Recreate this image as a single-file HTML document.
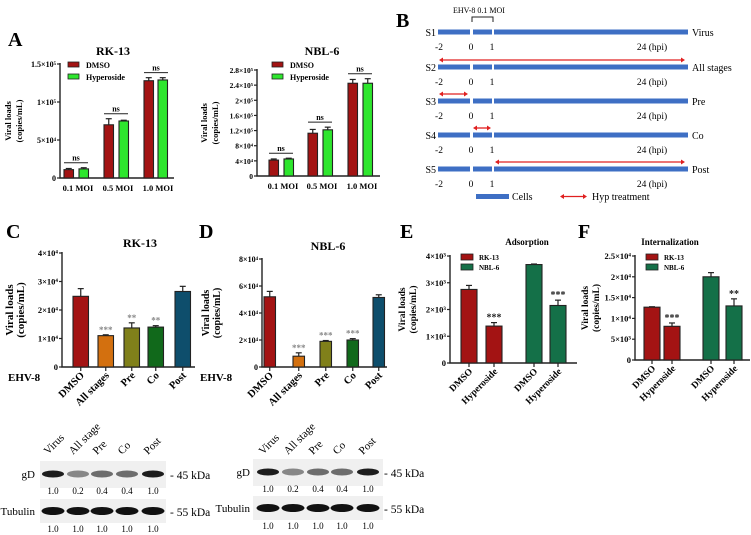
<!DOCTYPE html>
<html><head><meta charset="utf-8"><style>
html,body{margin:0;padding:0;background:#fff;}
svg{display:block;font-family:"Liberation Serif",serif;}
</style></head><body>
<svg id="fig" width="751" height="535" viewBox="0 0 751 535" xmlns="http://www.w3.org/2000/svg">
<g font-weight="bold" font-size="20">
<text x="8" y="46">A</text>
<text x="396" y="27">B</text>
<text x="6" y="238">C</text>
<text x="199" y="238">D</text>
<text x="400" y="238">E</text>
<text x="578" y="238">F</text>
</g>
<g id="charts"></g>
<g id="panelB"></g>
<g id="blots"></g>
</svg>
<script>
// Panel A data
const aCats = ["0.1 MOI","0.5 MOI","1.0 MOI"];
const aRkDmso = [11000, 70000, 128000];
const aRkDmsoErr = [1500, 8000, 4000];
const aRkHyp = [12000, 75000, 129000];
const aRkHypErr = [1500, 1000, 3000];
const aNbDmso = [42000, 113000, 245000];
const aNbDmsoErr = [3000, 10000, 10000];
const aNbHyp = [45000, 122000, 245000];
const aNbHypErr = [2000, 7000, 12000];
// Panel C/D data
const cdCats = ["DMSO","All stages","Pre","Co","Post"];
const cVals = [24800, 11000, 13700, 14000, 26500];
const cErr = [2700, 300, 1800, 500, 1800];
const cStars = ["","***","**","**",""];
const dVals = [52000, 8000, 19000, 20000, 51500];
const dErr = [4000, 2500, 600, 1000, 2000];
const dStars = ["","***","***","***",""];
// Panel E/F data
const efCats = ["DMSO","Hyperoside","DMSO","Hyperoside"];
const eVals = [2750, 1380, 3680, 2150];
const eErr = [150, 130, 20, 200];
const eStars = ["","***","","***"];
const fVals = [12700, 8100, 20000, 13000];
const fErr = [100, 800, 1000, 1700];
const fStars = ["","***","","**"];
const tickA1 = [0, 50000, 100000, 150000];
const tickA1Lab = ["0","5×10⁴","1×10⁵","1.5×10⁵"];
const tickA2 = [0,40000,80000,120000,160000,200000,240000,280000];
const tickA2Lab = ["0","4×10⁴","8×10⁴","1.2×10⁵","1.6×10⁵","2×10⁵","2.4×10⁵","2.8×10⁵"];
const tickC = [0,10000,20000,30000,40000];
const tickCLab = ["0","1×10⁴","2×10⁴","3×10⁴","4×10⁴"];
const tickD = [0,20000,40000,60000,80000];
const tickDLab = ["0","2×10⁴","4×10⁴","6×10⁴","8×10⁴"];
const tickE = [0,1000,2000,3000,4000];
const tickELab = ["0","1×10³","2×10³","3×10³","4×10³"];
const tickF = [0,5000,10000,15000,20000,25000];
const tickFLab = ["0","5×10³","1×10⁴","1.5×10⁴","2×10⁴","2.5×10⁴"];
const blotLanes = ["Virus","All stage","Pre","Co","Post"];
const gdRatio = ["1.0","0.2","0.4","0.4","1.0"];
const tubRatio = ["1.0","1.0","1.0","1.0","1.0"];

const NS="http://www.w3.org/2000/svg";
function mk(parent,tag,attrs,text){const e=document.createElementNS(NS,tag);for(const k in attrs)e.setAttribute(k,attrs[k]);if(text!==undefined)e.textContent=text;parent.appendChild(e);return e;}
const charts=document.getElementById('charts');

function chart(o){
  const g=mk(charts,'g',{});
  
  
  const y=v=>o.y0-(v/o.max)*(o.y0-o.yTop);
  const t=mk(g,'text',{x:o.titleX,y:o.titleY,'font-size':o.titleSize||12,'font-weight':'bold','text-anchor':'middle'},o.title);
  
  
  const ax=mk(g,'path',{d:`M${o.ax} ${o.yTop-1}V${o.y0}H${o.axEnd}`,stroke:'#222','stroke-width':1.4,fill:'none'});
  
  
  o.ticks.forEach((tv,i)=>{
    mk(g,'line',{x1:o.ax-3,x2:o.ax,y1:y(tv),y2:y(tv),stroke:'#222','stroke-width':1.2});
    const tl=mk(g,'text',{x:o.ax-4,y:y(tv)+3,'font-size':o.tickSize||8,'font-weight':'bold','text-anchor':'end'},o.tickLab[i]);
    
    
  });
  const yl=mk(g,'text',{transform:`translate(${o.ylX},${(o.y0+o.yTop)/2}) rotate(-90)`,'font-size':o.ylSize||9.5,'font-weight':'bold','text-anchor':'middle'});
  
  
  mk(yl,'tspan',{x:0,dy:-5},'Viral loads');
  mk(yl,'tspan',{x:0,dy:11},'(copies/mL)');
  o.series.forEach((s,si)=>{
    s.vals.forEach((v,i)=>{
      const x=o.xs[si][i], w=o.bw;
      const top=y(v+s.err[i]);
      mk(g,'line',{x1:x+w/2,x2:x+w/2,y1:y(v),y2:top,stroke:'#222','stroke-width':1.2});
      mk(g,'line',{x1:x+w/2-3,x2:x+w/2+3,y1:top,y2:top,stroke:'#222','stroke-width':1.2});
      const r=mk(g,'rect',{x:x,y:y(v),width:w,height:o.y0-y(v),fill:s.colors?s.colors[i]:s.color,stroke:'#222','stroke-width':1.1});
      
      
      if(s.stars&&s.stars[i]){
        const st=mk(g,'text',{x:x+w/2,y:top-2,'font-size':o.starSize||9,'font-weight':'bold','text-anchor':'middle',fill:o.starColor||'#222'},s.stars[i]);
        
        
      }
    });
  });
  return {g,y};
}

const a1=chart({name:'chart-a-rk13',title:'RK-13',titleX:113,titleY:55,y0:178,yTop:64,max:150000,ax:60,axEnd:174,
  ticks:tickA1,tickLab:tickA1Lab,ylX:16,bw:9.5,tickSize:8,ylSize:8.5,
  xs:[[64,104,144],[79,119,158]],
  series:[{key:'dmso',vals:aRkDmso,err:aRkDmsoErr,color:'#a31313'},{key:'hyperoside',vals:aRkHyp,err:aRkHypErr,color:'#2ee62e'}]});
const a2=chart({name:'chart-a-nbl6',title:'NBL-6',titleX:322,titleY:55,y0:176,yTop:70,max:280000,ax:257,axEnd:380,
  ticks:tickA2,tickLab:tickA2Lab,ylX:212,bw:9.5,tickSize:7.5,ylSize:8.5,
  xs:[[269,308,348],[284,323,363]],
  series:[{key:'dmso',vals:aNbDmso,err:aNbDmsoErr,color:'#a31313'},{key:'hyperoside',vals:aNbHyp,err:aNbHypErr,color:'#2ee62e'}]});
[[a1,[64,104,144],aRkDmso,aRkDmsoErr,aRkHyp,aRkHypErr],[a2,[269,308,348],aNbDmso,aNbDmsoErr,aNbHyp,aNbHypErr]].forEach(([c,xs,d,de,h,he])=>{
  xs.forEach((x,i)=>{
    const top=Math.min(c.y(d[i]+de[i]),c.y(h[i]+he[i]))-5;
    mk(c.g,'line',{x1:x,x2:x+24,y1:top,y2:top,stroke:'#222','stroke-width':1});
    const n=mk(c.g,'text',{x:x+12,y:top-2,'font-size':8,'font-weight':'bold','text-anchor':'middle'},'ns');
    
    
    const lb=mk(c.g,'text',{x:x+14,y:c.y(0)+13,'font-size':8.5,'font-weight':'bold','text-anchor':'middle'},aCats[i]);
    
    
  });
});
[[a1.g,68],[a2.g,272]].forEach(([g,x])=>{
  const l=mk(g,'g',{});
  
  
  mk(l,'rect',{x:x,y:62,width:11,height:5,fill:'#a31313',stroke:'#222','stroke-width':0.8});
  mk(l,'text',{x:x+18,y:68,'font-size':8,'font-weight':'bold'},'DMSO');
  mk(l,'rect',{x:x,y:74,width:11,height:5,fill:'#2ee62e',stroke:'#222','stroke-width':0.8});
  mk(l,'text',{x:x+18,y:80,'font-size':8,'font-weight':'bold'},'Hyperoside');
});

const cdColors=['#a31313','#d3700f','#80801a','#11691b','#0e4e6c'];
const cc=chart({name:'chart-c-rk13',title:'RK-13',titleX:140,titleY:247,y0:367,yTop:253,max:40000,ax:62,axEnd:195,
  ticks:tickC,tickLab:tickCLab,ylX:18,bw:15.5,tickSize:8.5,ylSize:11,starColor:'#888',starSize:9,
  xs:[[73,98,124,148,175]],
  series:[{key:'treatment',vals:cVals,err:cErr,colors:cdColors,stars:cStars}]});
const cdd=chart({name:'chart-d-nbl6',title:'NBL-6',titleX:328,titleY:250,y0:367,yTop:259,max:80000,ax:262,axEnd:387,
  ticks:tickD,tickLab:tickDLab,ylX:214,bw:11.5,tickSize:8,ylSize:10,starColor:'#888',starSize:9,
  xs:[[264,293,320,347,373]],
  series:[{key:'treatment',vals:dVals,err:dErr,colors:cdColors,stars:dStars}]});
[[cc,[73,98,124,148,175],15.5,8],[cdd,[264,293,320,347,373],11.5,200]].forEach(([c,xs,w,ex])=>{
  const e=mk(c.g,'text',{x:ex,y:381,'font-size':11,'font-weight':'bold'},'EHV-8');
  
  
  xs.forEach((x,i)=>{
    mk(c.g,'line',{x1:x+w/2,x2:x+w/2,y1:367,y2:371,stroke:'#222','stroke-width':1.2});
    const t=mk(c.g,'text',{transform:`translate(${x+w/2+4},${376}) rotate(-45)`,'font-size':10.5,'font-weight':'bold','text-anchor':'end'},cdCats[i]);
    
    
  });
});

const efColors=['#a31313','#a31313','#147048','#147048'];
const ce=chart({name:'chart-e-adsorption',title:'Adsorption',titleX:527,titleY:245,titleSize:9,y0:363,yTop:256,max:4000,ax:450,axEnd:577,
  ticks:tickE,tickLab:tickELab,ylX:410,bw:16,tickSize:8.5,ylSize:9.5,starSize:10,
  xs:[[461,486,526,550]],
  series:[{key:'group',vals:eVals,err:eErr,colors:efColors,stars:eStars}]});
const cf=chart({name:'chart-f-internalization',title:'Internalization',titleX:670,titleY:245,titleSize:9,y0:360,yTop:256,max:25000,ax:635,axEnd:750,
  ticks:tickF,tickLab:tickFLab,ylX:593,bw:16,tickSize:8.5,ylSize:9.5,starSize:10,
  xs:[[644,664,703,726]],
  series:[{key:'group',vals:fVals,err:fErr,colors:efColors,stars:fStars}]});
[[ce,[461,486,526,550],363,461],[cf,[644,664,703,726],360,646]].forEach(([c,xs,y0,lx])=>{
  xs.forEach((x,i)=>{
    mk(c.g,'line',{x1:x+8,x2:x+8,y1:y0,y2:y0+4,stroke:'#222','stroke-width':1.2});
    const t=mk(c.g,'text',{transform:`translate(${x+12},${y0+9}) rotate(-45)`,'font-size':9.5,'font-weight':'bold','text-anchor':'end'},efCats[i]);
    
    
  });
  const l=mk(c.g,'g',{});
  
  
  mk(l,'rect',{x:lx,y:254,width:12,height:6,fill:'#a31313',stroke:'#222','stroke-width':0.8});
  mk(l,'text',{x:lx+18,y:260,'font-size':7,'font-weight':'bold'},'RK-13');
  mk(l,'rect',{x:lx,y:264,width:12,height:6,fill:'#147048',stroke:'#222','stroke-width':0.8});
  mk(l,'text',{x:lx+18,y:270,'font-size':7,'font-weight':'bold'},'NBL-6');
});

const B=document.getElementById('panelB');
const rowY=[32,67,101,135,169];
const rowNames=['S1','S2','S3','S4','S5'];
const rowRight=['Virus','All stages','Pre','Co','Post'];
const arrows=[null,[439,685],[439,468],[473,491],[495,685]];
function arrow(g,x1,x2,y){
  mk(g,'line',{x1:x1+3,x2:x2-3,y1:y,y2:y,stroke:'#e02020','stroke-width':1.3});
  mk(g,'path',{d:`M${x1} ${y}l4 -2.5v5z M${x2} ${y}l-4 -2.5v5z`,fill:'#e02020'});
}
mk(B,'text',{x:453,y:13,'font-size':8},'EHV-8 0.1 MOI');
mk(B,'path',{d:'M472 22V17H493V22',stroke:'#222',fill:'none','stroke-width':1});
rowY.forEach((y,i)=>{
  const r=mk(B,'g',{});
  
  
  mk(r,'text',{x:436,y:y+4,'font-size':10,'text-anchor':'end'},rowNames[i]);
  mk(r,'rect',{x:438,y:y-2.5,width:32,height:5,fill:'#3e6fc4'});
  mk(r,'rect',{x:473,y:y-2.5,width:19,height:5,fill:'#3e6fc4'});
  mk(r,'rect',{x:494,y:y-2.5,width:194,height:5,fill:'#3e6fc4'});
  mk(r,'text',{x:692,y:y+4,'font-size':10},rowRight[i]);
  mk(r,'text',{x:439,y:y+18,'font-size':9.5,'text-anchor':'middle'},'-2');
  mk(r,'text',{x:471,y:y+18,'font-size':9.5,'text-anchor':'middle'},'0');
  mk(r,'text',{x:492,y:y+18,'font-size':9.5,'text-anchor':'middle'},'1');
  mk(r,'text',{x:652,y:y+18,'font-size':9.5,'text-anchor':'middle'},'24 (hpi)');
  if(arrows[i]) arrow(r,arrows[i][0],arrows[i][1],y-7);
});
mk(B,'rect',{x:476,y:194,width:33,height:5,fill:'#3e6fc4'});
mk(B,'text',{x:512,y:200,'font-size':10},'Cells');
arrow(B,560,587,196.5);
mk(B,'text',{x:592,y:200,'font-size':10},'Hyp treatment');

const BL=document.getElementById('blots');
function blot(bx,bw,lanes,gdY,tubY,labX,tubLabX,kx){
  const g=mk(BL,'g',{});
  
  
  mk(g,'rect',{x:bx,y:gdY-13,width:bw,height:27,fill:'#f0f0f0'});
  mk(g,'rect',{x:bx,y:tubY-12,width:bw,height:24,fill:'#f0f0f0'});
  lanes.forEach((x,i)=>{
    const t=mk(g,'text',{transform:`translate(${x-5},${455}) rotate(-45)`,'font-size':11},blotLanes[i]);
    
    
    const int=parseFloat(gdRatio[i]);
    mk(g,'ellipse',{cx:x,cy:gdY,rx:11,ry:3.5,fill:'#111','fill-opacity':0.35+0.6*int});
    mk(g,'ellipse',{cx:x,cy:tubY,rx:11.5,ry:4,fill:'#111'});
    mk(g,'text',{x:x,y:gdY+20,'font-size':9,'text-anchor':'middle'},gdRatio[i]);
    mk(g,'text',{x:x,y:tubY+21,'font-size':9,'text-anchor':'middle'},tubRatio[i]);
  });
  mk(g,'text',{x:labX,y:gdY+4,'font-size':11,'text-anchor':'end'},'gD');
  mk(g,'text',{x:tubLabX,y:tubY+4,'font-size':11,'text-anchor':'end'},'Tubulin');
  mk(g,'text',{x:kx,y:gdY+5,'font-size':11.5},'- 45 kDa');
  mk(g,'text',{x:kx,y:tubY+5,'font-size':11.5},'- 55 kDa');
}
blot(40,126,[53,78,102,127,153],474,511,35,35,170);
blot(253,130,[268,293,318,342,368],472,508,250,250,384);
</script>
</body></html>
